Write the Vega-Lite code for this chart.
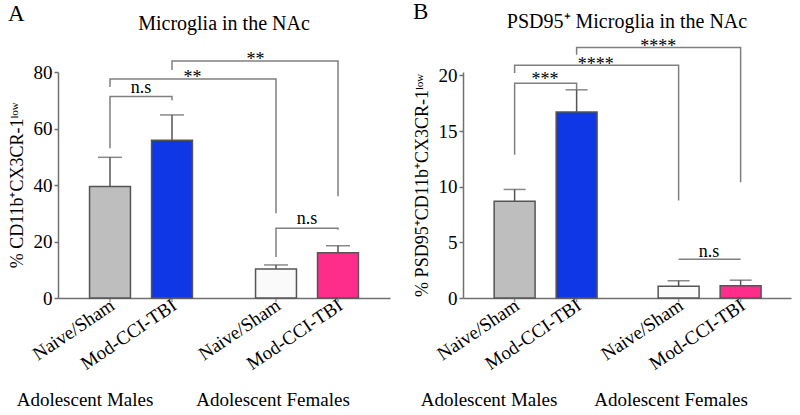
{
  "$schema": "https://vega.github.io/schema/vega-lite/v6.json",
  "padding": {"left": 8, "top": 0, "right": 5, "bottom": 0},
  "spacing": 23,
  "config": {
    "font": "Liberation Serif",
    "view": {"stroke": null},
    "axis": {"domainColor": "#707070", "domainWidth": 1.5, "tickColor": "#707070", "tickWidth": 1.5, "labelColor": "#000", "titleColor": "#000", "grid": false, "labelFont": "Liberation Serif", "titleFont": "Liberation Serif", "titleFontWeight": "normal"},
    "title": {"font": "Liberation Serif", "fontWeight": "normal", "color": "#000"},
    "text": {"font": "Liberation Serif", "color": "#000"}
  },
  "datasets": {
    "barsA": [
      {"sex": "Adolescent Males", "cond": "Naive/Sham", "key": "M-Naive", "mean": 39.5, "hi": 49.8},
      {"sex": "Adolescent Males", "cond": "Mod-CCI-TBI", "key": "M-TBI", "mean": 55.8, "hi": 64.8},
      {"sex": "Adolescent Females", "cond": "Naive/Sham", "key": "F-Naive", "mean": 10.3, "hi": 11.7},
      {"sex": "Adolescent Females", "cond": "Mod-CCI-TBI", "key": "F-TBI", "mean": 16.0, "hi": 18.5}
    ],
    "barsB": [
      {"sex": "Adolescent Males", "cond": "Naive/Sham", "key": "M-Naive", "mean": 8.7, "hi": 9.75},
      {"sex": "Adolescent Males", "cond": "Mod-CCI-TBI", "key": "M-TBI", "mean": 16.7, "hi": 18.7},
      {"sex": "Adolescent Females", "cond": "Naive/Sham", "key": "F-Naive", "mean": 1.05, "hi": 1.55},
      {"sex": "Adolescent Females", "cond": "Mod-CCI-TBI", "key": "F-TBI", "mean": 1.1, "hi": 1.6}
    ],
    "bracketsA": [
      {"id": "b1", "ord": 1, "sex": "Adolescent Males", "cond": "Naive/Sham", "y": 53},
      {"id": "b1", "ord": 2, "sex": "Adolescent Males", "cond": "Naive/Sham", "y": 71.3},
      {"id": "b1", "ord": 3, "sex": "Adolescent Males", "cond": "Mod-CCI-TBI", "y": 71.3},
      {"id": "b1", "ord": 4, "sex": "Adolescent Males", "cond": "Mod-CCI-TBI", "y": 70},
      {"id": "b2", "ord": 1, "sex": "Adolescent Males", "cond": "Naive/Sham", "y": 74.7},
      {"id": "b2", "ord": 2, "sex": "Adolescent Males", "cond": "Naive/Sham", "y": 77.5},
      {"id": "b2", "ord": 3, "sex": "Adolescent Females", "cond": "Naive/Sham", "y": 77.5},
      {"id": "b2", "ord": 4, "sex": "Adolescent Females", "cond": "Naive/Sham", "y": 30},
      {"id": "b3", "ord": 1, "sex": "Adolescent Males", "cond": "Mod-CCI-TBI", "y": 80.7},
      {"id": "b3", "ord": 2, "sex": "Adolescent Males", "cond": "Mod-CCI-TBI", "y": 83.9},
      {"id": "b3", "ord": 3, "sex": "Adolescent Females", "cond": "Mod-CCI-TBI", "y": 83.9},
      {"id": "b3", "ord": 4, "sex": "Adolescent Females", "cond": "Mod-CCI-TBI", "y": 36},
      {"id": "b4", "ord": 1, "sex": "Adolescent Females", "cond": "Naive/Sham", "y": 14.5},
      {"id": "b4", "ord": 2, "sex": "Adolescent Females", "cond": "Naive/Sham", "y": 24.7},
      {"id": "b4", "ord": 3, "sex": "Adolescent Females", "cond": "Mod-CCI-TBI", "y": 24.7},
      {"id": "b4", "ord": 4, "sex": "Adolescent Females", "cond": "Mod-CCI-TBI", "y": 24.2}
    ],
    "bracketsB": [
      {"id": "b1", "ord": 1, "sex": "Adolescent Males", "cond": "Naive/Sham", "y": 12.86},
      {"id": "b1", "ord": 2, "sex": "Adolescent Males", "cond": "Naive/Sham", "y": 19.3},
      {"id": "b1", "ord": 3, "sex": "Adolescent Males", "cond": "Mod-CCI-TBI", "y": 19.3},
      {"id": "b1", "ord": 4, "sex": "Adolescent Males", "cond": "Mod-CCI-TBI", "y": 18.7},
      {"id": "b2", "ord": 1, "sex": "Adolescent Males", "cond": "Naive/Sham", "y": 20.2},
      {"id": "b2", "ord": 2, "sex": "Adolescent Males", "cond": "Naive/Sham", "y": 20.9},
      {"id": "b2", "ord": 3, "sex": "Adolescent Females", "cond": "Naive/Sham", "y": 20.9},
      {"id": "b2", "ord": 4, "sex": "Adolescent Females", "cond": "Naive/Sham", "y": 8.75},
      {"id": "b3", "ord": 1, "sex": "Adolescent Males", "cond": "Mod-CCI-TBI", "y": 21.85},
      {"id": "b3", "ord": 2, "sex": "Adolescent Males", "cond": "Mod-CCI-TBI", "y": 22.5},
      {"id": "b3", "ord": 3, "sex": "Adolescent Females", "cond": "Mod-CCI-TBI", "y": 22.5},
      {"id": "b3", "ord": 4, "sex": "Adolescent Females", "cond": "Mod-CCI-TBI", "y": 10.4},
      {"id": "b4", "ord": 1, "sex": "Adolescent Females", "cond": "Naive/Sham", "y": 3.48},
      {"id": "b4", "ord": 2, "sex": "Adolescent Females", "cond": "Mod-CCI-TBI", "y": 3.48}
    ],
    "labelsA": [
      {"text": "n.s", "pos": "mid", "sex": "Adolescent Males", "y": 72.4},
      {"text": "**", "pos": "end", "sex": "Adolescent Males", "y": 76.1},
      {"text": "**", "pos": "start", "sex": "Adolescent Females", "y": 82.5},
      {"text": "n.s", "pos": "mid", "sex": "Adolescent Females", "y": 26.2}
    ],
    "labelsB": [
      {"text": "***", "pos": "mid", "sex": "Adolescent Males", "y": 19.15},
      {"text": "****", "pos": "end", "sex": "Adolescent Males", "y": 20.5},
      {"text": "****", "pos": "start", "sex": "Adolescent Females", "y": 22.1},
      {"text": "n.s", "pos": "mid", "sex": "Adolescent Females", "y": 3.64}
    ]
  },
  "hconcat": [
    {
      "title": {"text": "A", "anchor": "start", "fontSize": 23, "offset": 0, "dy": 12},
      "vconcat": [
        {
          "width": 332,
          "height": 226,
          "title": {"text": "Microglia in the NAc", "fontSize": 20, "offset": 17},
          "layer": [
            {
              "data": {"name": "barsA"},
              "mark": {"type": "tick", "orient": "vertical", "color": "#707070", "thickness": 1.5, "size": 8},
              "encoding": {
                "x": {"field": "sex", "type": "nominal", "sort": null,
                  "scale": {"domain": ["Adolescent Males", "Adolescent Females"], "paddingInner": 0.38, "paddingOuter": 0.19},
                  "axis": {"title": null, "ticks": false, "labelAngle": 0, "labelFontSize": 19, "labelPadding": 92,
                    "labelOffset": {"condition": {"test": "datum.value === 'Adolescent Males'", "value": -56}, "value": -34}}},
                "xOffset": {"field": "cond", "type": "nominal", "sort": null,
                  "scale": {"domain": ["Naive/Sham", "Mod-CCI-TBI"], "paddingInner": 0.34, "paddingOuter": 0}},
                "y": {"datum": 0, "type": "quantitative"}
              }
            },
            {
              "data": {"name": "barsA"},
              "mark": {"type": "bar", "stroke": "#555555", "strokeWidth": 1.5},
              "encoding": {
                "x": {"field": "sex", "type": "nominal", "sort": null},
                "xOffset": {"field": "cond", "type": "nominal", "sort": null},
                "y": {"field": "mean", "type": "quantitative",
                  "scale": {"domain": [0, 80], "nice": false},
                  "axis": {"title": "% CD11b⁺CX3CR-1ˡᵒʷ", "values": [0, 20, 40, 60, 80], "tickSize": 4, "labelPadding": 2, "labelFontSize": 19, "titleFontSize": 18, "titlePadding": 7}},
                "color": {"field": "key", "type": "nominal",
                  "scale": {"domain": ["M-Naive", "M-TBI", "F-Naive", "F-TBI"], "range": ["#bebebe", "#0f37e6", "#fafafa", "#fe2d8c"]},
                  "legend": null}
              }
            },
            {
              "data": {"name": "barsA"},
              "mark": {"type": "rule", "color": "#555555", "strokeWidth": 1.5},
              "encoding": {
                "x": {"field": "sex", "type": "nominal", "sort": null},
                "xOffset": {"field": "cond", "type": "nominal", "sort": null},
                "y": {"field": "mean", "type": "quantitative"},
                "y2": {"field": "hi"}
              }
            },
            {
              "data": {"name": "barsA"},
              "mark": {"type": "tick", "color": "#555555", "thickness": 1.5, "size": 24, "orient": "horizontal"},
              "encoding": {
                "x": {"field": "sex", "type": "nominal", "sort": null},
                "xOffset": {"field": "cond", "type": "nominal", "sort": null},
                "y": {"field": "hi", "type": "quantitative"}
              }
            },
            {
              "data": {"name": "bracketsA"},
              "mark": {"type": "line", "color": "#808080", "strokeWidth": 1.5},
              "encoding": {
                "x": {"field": "sex", "type": "nominal", "sort": null},
                "xOffset": {"field": "cond", "type": "nominal", "sort": null},
                "y": {"field": "y", "type": "quantitative"},
                "detail": {"field": "id"},
                "order": {"field": "ord"}
              }
            },
            {
              "data": {"name": "barsA"},
              "mark": {"type": "text", "angle": 326, "align": "right", "baseline": "alphabetic", "fontSize": 19, "dx": -1, "dy": 12},
              "encoding": {
                "x": {"field": "sex", "type": "nominal", "sort": null},
                "xOffset": {"field": "cond", "type": "nominal", "sort": null},
                "y": {"datum": 0, "type": "quantitative"},
                "text": {"field": "cond"}
              }
            },
            {
              "data": {"name": "labelsA"},
              "transform": [{"filter": "datum.pos === 'mid'"}],
              "mark": {"type": "text", "fontSize": 18, "baseline": "alphabetic"},
              "encoding": {
                "x": {"field": "sex", "type": "nominal", "sort": null},
                "y": {"field": "y", "type": "quantitative"},
                "text": {"field": "text"}
              }
            },
            {
              "data": {"name": "labelsA"},
              "transform": [{"filter": "datum.pos === 'end'"}],
              "mark": {"type": "text", "fontSize": 18, "baseline": "alphabetic"},
              "encoding": {
                "x": {"field": "sex", "type": "nominal", "sort": null, "bandPosition": 1},
                "y": {"field": "y", "type": "quantitative"},
                "text": {"field": "text"}
              }
            },
            {
              "data": {"name": "labelsA"},
              "transform": [{"filter": "datum.pos === 'start'"}],
              "mark": {"type": "text", "fontSize": 18, "baseline": "alphabetic"},
              "encoding": {
                "x": {"field": "sex", "type": "nominal", "sort": null, "bandPosition": 0},
                "y": {"field": "y", "type": "quantitative"},
                "text": {"field": "text"}
              }
            }
          ]
        }
      ]
    },
    {
      "title": {"text": "B", "anchor": "start", "fontSize": 23, "offset": 0, "dy": 12},
      "vconcat": [
        {
          "width": 328,
          "height": 226,
          "title": {"text": "PSD95⁺ Microglia in the NAc", "fontSize": 20, "offset": 6},
          "layer": [
            {
              "data": {"name": "barsB"},
              "mark": {"type": "tick", "orient": "vertical", "color": "#707070", "thickness": 1.5, "size": 8},
              "encoding": {
                "x": {"field": "sex", "type": "nominal", "sort": null,
                  "scale": {"domain": ["Adolescent Males", "Adolescent Females"], "paddingInner": 0.38, "paddingOuter": 0.19},
                  "axis": {"title": null, "ticks": false, "labelAngle": 0, "labelFontSize": 19, "labelPadding": 92,
                    "labelOffset": {"condition": {"test": "datum.value === 'Adolescent Males'", "value": -56}, "value": -38}}},
                "xOffset": {"field": "cond", "type": "nominal", "sort": null,
                  "scale": {"domain": ["Naive/Sham", "Mod-CCI-TBI"], "paddingInner": 0.34, "paddingOuter": 0}},
                "y": {"datum": 0, "type": "quantitative"}
              }
            },
            {
              "data": {"name": "barsB"},
              "mark": {"type": "bar", "stroke": "#555555", "strokeWidth": 1.5},
              "encoding": {
                "x": {"field": "sex", "type": "nominal", "sort": null},
                "xOffset": {"field": "cond", "type": "nominal", "sort": null},
                "y": {"field": "mean", "type": "quantitative",
                  "scale": {"domain": [0, 20.3], "nice": false},
                  "axis": {"title": "% PSD95⁺CD11b⁺CX3CR-1ˡᵒʷ", "values": [0, 5, 10, 15, 20], "tickSize": 4, "labelPadding": 2, "labelFontSize": 19, "titleFontSize": 18, "titlePadding": 7}},
                "color": {"field": "key", "type": "nominal",
                  "scale": {"domain": ["M-Naive", "M-TBI", "F-Naive", "F-TBI"], "range": ["#bebebe", "#0f37e6", "#fafafa", "#fe2d8c"]},
                  "legend": null}
              }
            },
            {
              "data": {"name": "barsB"},
              "mark": {"type": "rule", "color": "#555555", "strokeWidth": 1.5},
              "encoding": {
                "x": {"field": "sex", "type": "nominal", "sort": null},
                "xOffset": {"field": "cond", "type": "nominal", "sort": null},
                "y": {"field": "mean", "type": "quantitative"},
                "y2": {"field": "hi"}
              }
            },
            {
              "data": {"name": "barsB"},
              "mark": {"type": "tick", "color": "#555555", "thickness": 1.5, "size": 22, "orient": "horizontal"},
              "encoding": {
                "x": {"field": "sex", "type": "nominal", "sort": null},
                "xOffset": {"field": "cond", "type": "nominal", "sort": null},
                "y": {"field": "hi", "type": "quantitative"}
              }
            },
            {
              "data": {"name": "bracketsB"},
              "mark": {"type": "line", "color": "#808080", "strokeWidth": 1.5},
              "encoding": {
                "x": {"field": "sex", "type": "nominal", "sort": null},
                "xOffset": {"field": "cond", "type": "nominal", "sort": null},
                "y": {"field": "y", "type": "quantitative"},
                "detail": {"field": "id"},
                "order": {"field": "ord"}
              }
            },
            {
              "data": {"name": "barsB"},
              "mark": {"type": "text", "angle": 326, "align": "right", "baseline": "alphabetic", "fontSize": 19, "dx": -1, "dy": 12},
              "encoding": {
                "x": {"field": "sex", "type": "nominal", "sort": null},
                "xOffset": {"field": "cond", "type": "nominal", "sort": null},
                "y": {"datum": 0, "type": "quantitative"},
                "text": {"field": "cond"}
              }
            },
            {
              "data": {"name": "labelsB"},
              "transform": [{"filter": "datum.pos === 'mid'"}],
              "mark": {"type": "text", "fontSize": 18, "baseline": "alphabetic"},
              "encoding": {
                "x": {"field": "sex", "type": "nominal", "sort": null},
                "y": {"field": "y", "type": "quantitative"},
                "text": {"field": "text"}
              }
            },
            {
              "data": {"name": "labelsB"},
              "transform": [{"filter": "datum.pos === 'end'"}],
              "mark": {"type": "text", "fontSize": 18, "baseline": "alphabetic"},
              "encoding": {
                "x": {"field": "sex", "type": "nominal", "sort": null, "bandPosition": 1},
                "y": {"field": "y", "type": "quantitative"},
                "text": {"field": "text"}
              }
            },
            {
              "data": {"name": "labelsB"},
              "transform": [{"filter": "datum.pos === 'start'"}],
              "mark": {"type": "text", "fontSize": 18, "baseline": "alphabetic"},
              "encoding": {
                "x": {"field": "sex", "type": "nominal", "sort": null, "bandPosition": 0},
                "y": {"field": "y", "type": "quantitative"},
                "text": {"field": "text"}
              }
            }
          ]
        }
      ]
    }
  ]
}
